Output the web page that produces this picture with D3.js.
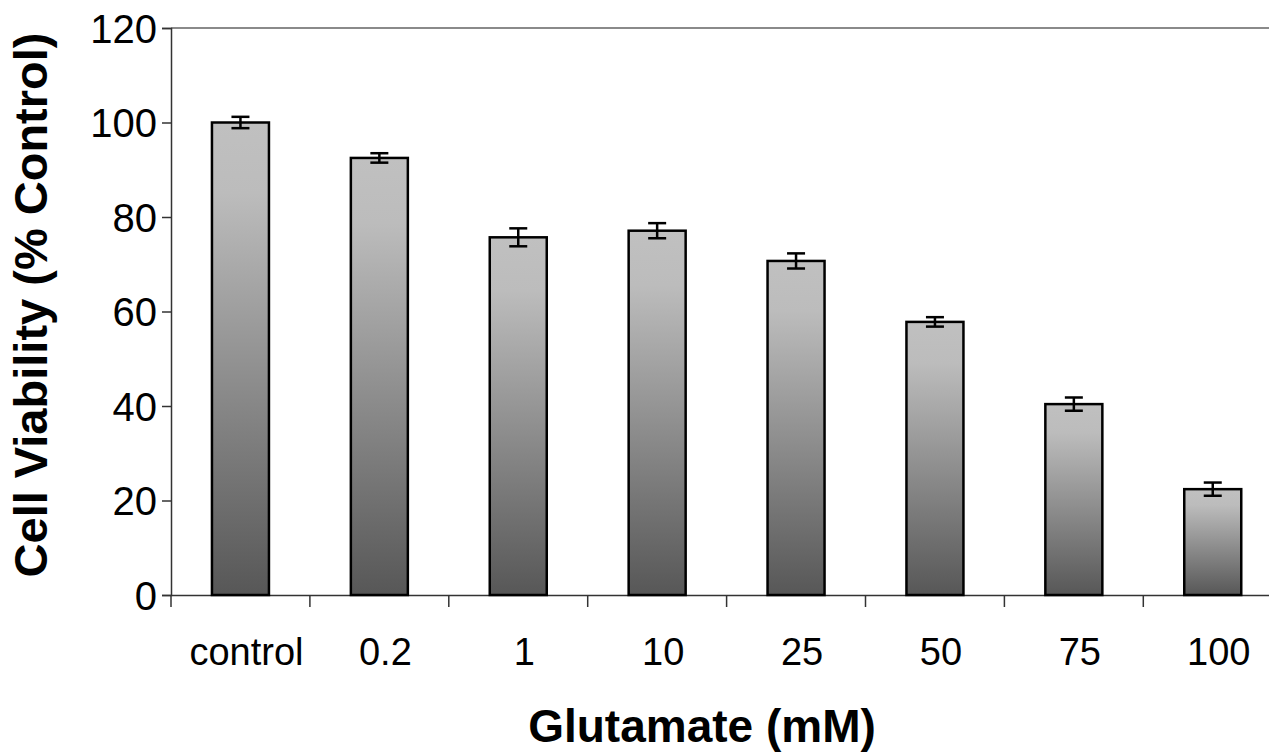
<!DOCTYPE html>
<html><head><meta charset="utf-8">
<script src="https://cdn.jsdelivr.net/npm/d3@7"></script>
<style>body{margin:0;background:#fff}svg{display:block}text{font-family:"Liberation Sans",Arial,sans-serif}</style>
</head><body><div id="chart"></div>
<script>
const categories = ["control","0.2","1","10","25","50","75","100"];
const viability = [100, 92.5, 75.7, 77.1, 70.7, 57.8, 40.4, 22.4];
const errors = [1.2, 1.0, 1.9, 1.6, 1.6, 1.0, 1.4, 1.4];
const yTicks = [0,20,40,60,80,100,120];
const xTitle = "Glutamate (mM)";
const yTitle = "Cell Viability (% Control)";

const W = 1269, H = 753;
const x0 = 171, xEnd = 171 + 8*138.9, yTop = 28, yBot = 595;
const svg = d3.select("#chart").append("svg").attr("width", W).attr("height", H);

const x = d3.scaleBand().domain(categories).range([x0, xEnd]).paddingInner(0).paddingOuter(0);
const y = d3.scaleLinear().domain([0,120]).range([yBot, yTop]);

const defs = svg.append("defs");
const g = defs.append("linearGradient").attr("id","barGrad").attr("x1",0).attr("y1",0).attr("x2",0).attr("y2",1);
g.append("stop").attr("offset","0").attr("stop-color","#c0c0c0");
g.append("stop").attr("offset","0.15").attr("stop-color","#bcbcbc");
g.append("stop").attr("offset","1").attr("stop-color","#575757");

// top border at 120
svg.append("line").attr("x1", x0).attr("x2", W).attr("y1", y(120)).attr("y2", y(120))
  .attr("stroke","#8a8a8a").attr("stroke-width",2);

// y axis
const yAxis = svg.append("g").attr("transform",`translate(${x0},0)`)
  .call(d3.axisLeft(y).tickValues(yTicks).tickSize(9).tickPadding(5));
yAxis.select(".domain").attr("stroke","#333").attr("stroke-width",1.5);
yAxis.selectAll(".tick line").attr("stroke","#333").attr("stroke-width",1.5);
yAxis.selectAll("text").attr("font-size",40).attr("fill","#000").attr("dy","0.36em");

// x axis
const xAxis = svg.append("g").attr("transform",`translate(0,${yBot})`)
  .call(d3.axisBottom(x).tickSize(0).tickPadding(43));
xAxis.select(".domain").attr("stroke","#333").attr("stroke-width",1.5);
xAxis.selectAll("text").attr("font-size",38).attr("fill","#000").attr("dx",6);
// x ticks at band boundaries
xAxis.selectAll(".bound").data(categories).enter().append("line")
  .attr("x1", d => x(d)).attr("x2", d => x(d)).attr("y1",0).attr("y2",12)
  .attr("stroke","#333").attr("stroke-width",1.5);

// bars
const bw = 57;
svg.selectAll(".bar").data(categories).enter().append("rect")
  .attr("x", d => x(d) + x.bandwidth()/2 - bw/2)
  .attr("width", bw)
  .attr("y", (d,i) => y(viability[i]))
  .attr("height", (d,i) => yBot - y(viability[i]))
  .attr("fill","url(#barGrad)").attr("stroke","#000").attr("stroke-width",2.5);

// error bars
const cap = 18;
categories.forEach((c,i) => {
  const cx = x(c) + x.bandwidth()/2;
  const yh = y(viability[i]+errors[i]), yl = y(viability[i]-errors[i]);
  const eg = svg.append("g").attr("stroke","#000").attr("stroke-width",2.5);
  eg.append("line").attr("x1",cx).attr("x2",cx).attr("y1",yh).attr("y2",yl);
  eg.append("line").attr("x1",cx-cap/2).attr("x2",cx+cap/2).attr("y1",yh).attr("y2",yh);
  eg.append("line").attr("x1",cx-cap/2).attr("x2",cx+cap/2).attr("y1",yl).attr("y2",yl);
});

// titles
svg.append("text").attr("x",702).attr("y",742).attr("text-anchor","middle")
  .attr("font-size",46).attr("font-weight","bold").text(xTitle);
svg.append("text").attr("transform","translate(47,305) rotate(-90)").attr("text-anchor","middle")
  .attr("font-size",47).attr("font-weight","bold").text(yTitle);
</script></body></html>
